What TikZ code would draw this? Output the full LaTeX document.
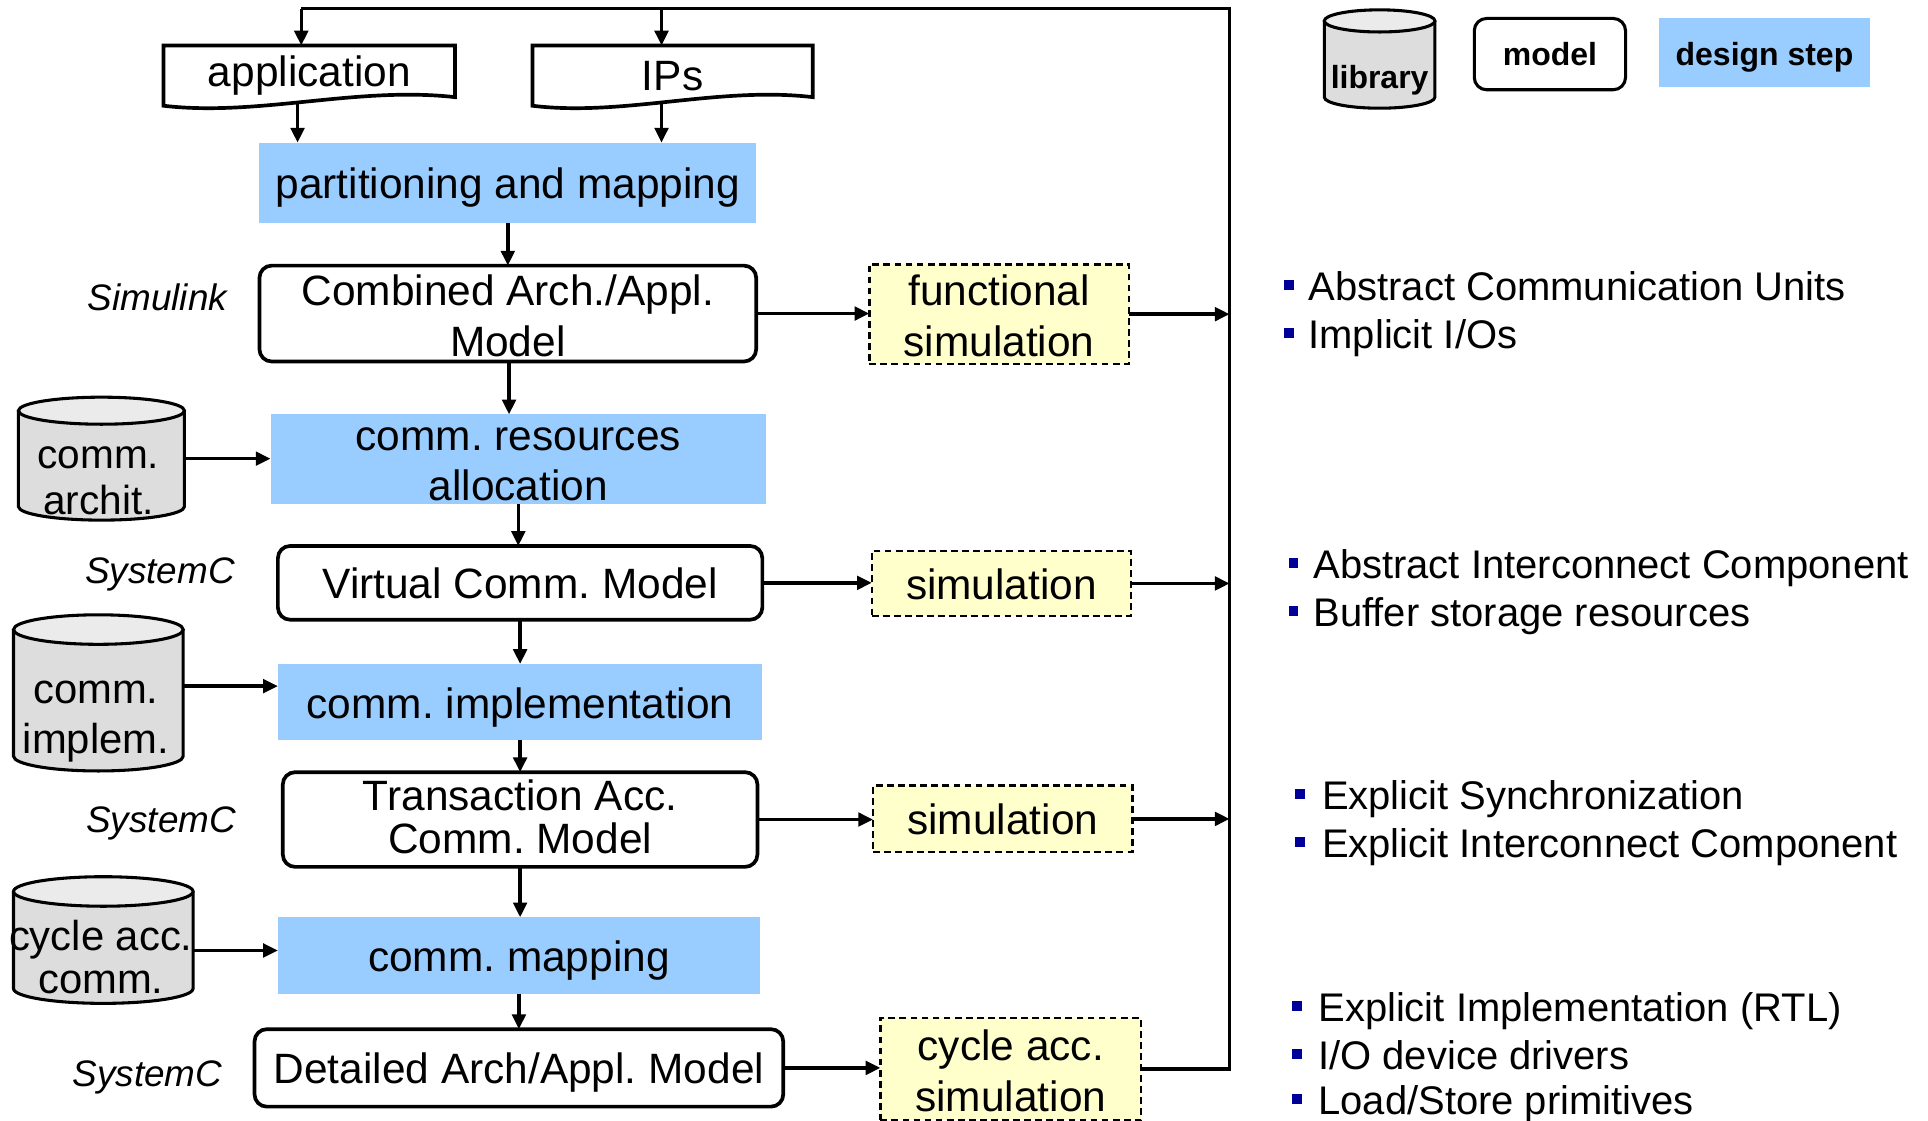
\documentclass[tikz,border=0pt]{standalone}
\usepackage{fontspec}
\setmainfont{Liberation Sans}
\frenchspacing
\usetikzlibrary{arrows.meta,calc}
\definecolor{stepblue}{HTML}{99CCFF}
\definecolor{simyellow}{HTML}{FFFFCC}
\definecolor{cylbody}{HTML}{DDDDDD}
\definecolor{cyltop}{HTML}{EBEBEB}
\definecolor{bulletblue}{HTML}{000099}
\newcommand\myfs[2]{\fontsize{#1}{#2}\selectfont\frenchspacing}
\newcommand\drawcyl[3]{%
  \filldraw[cylline, fill=cylbody] ($(#1.north west)+(0,-#3)$) -- ($(#1.south west)+(0,#3)$) arc[start angle=180,end angle=360,x radius=#2,y radius=#3] -- ($(#1.north east)+(0,-#3)$);
  \filldraw[cylline, fill=cyltop] ($(#1.north)+(0,-#3)$) ellipse[x radius=#2,y radius=#3];
}
\begin{document}
\begin{tikzpicture}[x=1pt,y=1pt,
  base/.style={inner sep=0, outer sep=0},
  oneline/.style={text height=32, text depth=6},
  stepbox/.style={base, fill=stepblue, align=center, font=\myfs{34.5}{41}},
  modelbox/.style={base, draw, line width=3, rounded corners=10, align=center, font=\myfs{34.5}{41}},
  simbox/.style={base, draw, line width=2, dash pattern=on 5.5pt off 3.5pt, fill=simyellow, align=center, font=\myfs{34.5}{41}},
  boxtext/.style={align=center, font=\myfs{34.5}{41}},
  doc/.style={base, font=\myfs{34.5}{41}},
  langlbl/.style={font=\itshape\myfs{30}{36}},
  cyltext/.style={align=center, font=\myfs{33}{38}},
  legbold/.style={font=\bfseries\myfs{26}{31}},
  bullet/.style={base, fill=bulletblue, minimum size=8},
  bultext/.style={font=\myfs{32.5}{39}, anchor=base west, inner sep=0},
  arr/.style={line width=2.8, -{Triangle[length=12pt,width=11pt]}},
  conn/.style={line width=3},
  cylline/.style={line width=2.5}]
\useasboundingbox (0,0) rectangle (1568,-911);

% documents
\node[doc, minimum width=237, minimum height=49] (app) at (251.5,-61.5) {application};
\draw[conn] (app.south west) -- (app.north west) -- (app.north east) -- ($(app.south east)+(0,7)$) .. controls ($(app.south east)+(-80,16)$) and ($(app.south west)+(77,-9)$) .. (app.south west) -- cycle;
\node[doc, minimum width=228, minimum height=49] (ips) at (547,-61.5) {IPs};
\draw[conn] (ips.south west) -- (ips.north west) -- (ips.north east) -- ($(ips.south east)+(0,7)$) .. controls ($(ips.south east)+(-77,16)$) and ($(ips.south west)+(74,-9)$) .. (ips.south west) -- cycle;

% main flow
\node[stepbox, oneline, minimum width=404, minimum height=65] (part) at (413,-148.5) {partitioning and mapping};
\node[modelbox, minimum width=404, minimum height=78] (comb) at (413,-255) {};
\node[boxtext] (combT) at ([yshift=-2]comb.center) {Combined Arch./Appl.\\Model};
\node[simbox, minimum width=211, minimum height=81] (fsim) at (812.5,-255.5) {};
\node[boxtext] (fsimT) at ([yshift=-1.5]fsim.center) {functional\\simulation};
\node[stepbox, minimum width=403, minimum height=73] (res) at (421.5,-373.5) {};
\node[boxtext] (resT) at ([yshift=-4]res.center) {comm. resources\\allocation};
\node[modelbox, oneline, minimum width=394, minimum height=60] (virt) at (423,-474) {Virtual Comm. Model};
\node[simbox, oneline, minimum width=211, minimum height=53] (vsim) at (814.5,-474.5) {simulation};
\node[stepbox, oneline, minimum width=394, minimum height=62] (impl) at (423,-571) {comm. implementation};
\node[modelbox, minimum width=386, minimum height=77] (trans) at (423,-666.5) {};
\node[boxtext, font=\myfs{34.5}{35}] (transT) at ([yshift=2]trans.center) {Transaction Acc.\\Comm. Model};
\node[simbox, oneline, minimum width=211, minimum height=54] (tsim) at (815.5,-666) {simulation};
\node[stepbox, oneline, minimum width=392, minimum height=62] (map) at (422,-777) {comm. mapping};
\node[modelbox, oneline, minimum width=430, minimum height=63] (det) at (422,-868.5) {Detailed Arch/Appl. Model};
\node[simbox, minimum width=212, minimum height=83] (cycsim) at (822,-869.5) {};
\node[boxtext] (cycsimT) at ([yshift=-1.5]cycsim.center) {cycle acc.\\simulation};

% language labels
\node[langlbl] (l1) at (128,-242) {Simulink};
\node[langlbl] (l2) at (130,-467) {SystemC};
\node[langlbl] (l3) at (131,-670) {SystemC};
\node[langlbl] (l4) at (120,-876) {SystemC};

% libraries
\node[base, minimum width=135, minimum height=100] (archit) at (82.5,-373) {};
\drawcyl{archit}{67.5}{11}
\node[cyltext] (architT) at (80,-391) {comm.\\archit.};
\node[base, minimum width=138, minimum height=127] (implem) at (80,-563.5) {};
\drawcyl{implem}{69}{12}
\node[cyltext, font=\myfs{34}{41}] (implemT) at (78,-587) {comm.\\implem.};
\node[base, minimum width=146, minimum height=103] (cycacc) at (84,-764.5) {};
\drawcyl{cycacc}{73}{12}
\node[cyltext, font=\myfs{34}{35}] (cycaccT) at (82,-778) {cycle acc.\\comm.};

% legend
\node[base, minimum width=90, minimum height=80] (lib) at (1122,-48) {};
\drawcyl{lib}{45}{9}
\node[legbold] (libT) at (1122,-65) {library};
\node[base, draw, line width=2.5, rounded corners=10, minimum width=123, minimum height=58, legbold] (legmodel) at (1260.5,-44) {model};
\node[base, fill=stepblue, minimum width=172, minimum height=56, legbold, text height=23, text depth=3] (legstep) at (1435,-43) {design step};

% connectors
\coordinate (busTop) at (1000,-7);
\coordinate (topL) at (245,-7);
\coordinate (topM) at (538,-7);
\draw[conn] (cycsim.east) -| (busTop) -- (topL);
\draw[arr] (topL) -- (topL |- app.north);
\draw[arr] (topM) -- (topM |- ips.north);
\draw[arr] ([xshift=-9.5,yshift=3]app.south) -- ([xshift=-9.5]app.south |- part.north);
\draw[arr] ([xshift=-9,yshift=3]ips.south) -- ([xshift=-9]ips.south |- part.north);

\draw[arr] (part.south) -- (part.south |- comb.north);
\draw[arr] ([xshift=1]comb.south) -- ([xshift=1]comb.south |- res.north);
\draw[arr] (res.south) -- (res.south |- virt.north);
\draw[arr] (virt.south) -- (virt.south |- impl.north);
\draw[arr] (impl.south) -- (impl.south |- trans.north);
\draw[arr] (trans.south) -- (trans.south |- map.north);
\draw[arr] (map.south) -- (map.south |- det.north);

\draw[arr] (comb.east) -- (comb.east -| fsim.west);
\draw[arr] (virt.east) -- (virt.east -| vsim.west);
\draw[arr] (trans.east) -- (trans.east -| tsim.west);
\draw[arr] (det.east) -- (det.east -| cycsim.west);

\draw[arr] (fsim.east) -- (fsim.east -| busTop);
\draw[arr] (vsim.east) -- (vsim.east -| busTop);
\draw[arr] (tsim.east) -- (tsim.east -| busTop);

\draw[arr] (archit.east) -- (archit.east -| res.west);
\draw[arr] ([yshift=5.5]implem.east) -- ([yshift=5.5]implem.east -| impl.west);
\draw[arr] ([yshift=-8.5]cycacc.east) -- ([yshift=-8.5]cycacc.east -| map.west);

% bullets
\node[bullet] (b1) at (1048,-232) {};
\node[bultext] (t1) at (1064,-244.5) {Abstract Communication Units};
\node[bullet] (b2) at (1048,-271) {};
\node[bultext] (t2) at (1064,-283.5) {Implicit I/Os};
\node[bullet] (b3) at (1052,-458) {};
\node[bultext] (t3) at (1068,-470.5) {Abstract Interconnect Component};
\node[bullet] (b4) at (1052,-497) {};
\node[bultext] (t4) at (1068,-509.5) {Buffer storage resources};
\node[bullet] (b5) at (1057,-646) {};
\node[bultext] (t5) at (1075,-658.5) {Explicit Synchronization};
\node[bullet] (b6) at (1057,-685) {};
\node[bultext] (t6) at (1075,-697.5) {Explicit Interconnect Component};
\node[bullet] (b7) at (1055,-818) {};
\node[bultext] (t7) at (1072,-830.5) {Explicit Implementation (RTL)};
\node[bullet] (b8) at (1055,-857) {};
\node[bultext] (t8) at (1072,-869.5) {I/O device drivers};
\node[bullet] (b9) at (1055,-894) {};
\node[bultext] (t9) at (1072,-906) {Load/Store primitives};
\end{tikzpicture}
\end{document}
